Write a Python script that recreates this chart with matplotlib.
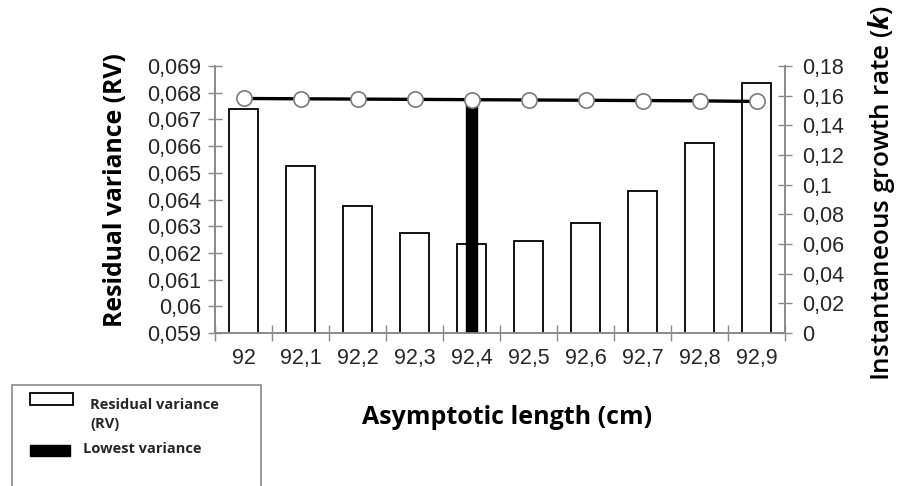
import matplotlib
matplotlib.use('Agg')
import matplotlib.pyplot as plt
import matplotlib.patches as mpatches
import numpy as np

plt.rcParams['font.family'] = ['Liberation Sans', 'DejaVu Sans']
plt.rcParams['mathtext.fontset'] = 'custom'
plt.rcParams['mathtext.it'] = 'Open Sans:italic:bold'

# data
lengths = ['92', '92,1', '92,2', '92,3', '92,4', '92,5', '92,6', '92,7', '92,8', '92,9']
rv = [0.0674, 0.06527, 0.06376, 0.06276, 0.06233, 0.06245, 0.06311, 0.06431, 0.06610, 0.06835]
k = [0.1581, 0.1579, 0.1577, 0.1575, 0.1573, 0.1571, 0.1569, 0.1567, 0.1565, 0.1561]

rv_lim = (0.059, 0.069)
k_lim = (0, 0.18)

axis_grey = '#8a8a8a'
text_dark = '#262626'

def comma(v, pos=None):
    s = f'{v:.3f}'.rstrip('0').rstrip('.')
    return s.replace('.', ',')

fig = plt.figure(figsize=(8.99, 4.86), dpi=100)
ax = fig.add_axes([0.2392, 0.3148, 0.634, 0.5494])
ax2 = ax.twinx()

x = np.arange(len(lengths))
lowest = int(np.argmin(rv))

# residual variance bars (white, black outline)
ax.bar(x, rv, width=0.5, color='white', edgecolor='black', linewidth=1.3, zorder=2)
ax.set_ylim(*rv_lim)
ax.set_xlim(-0.5, len(lengths) - 0.5)

# lowest variance highlight: thin black bar up to the k line
ax2.bar(x[lowest], k[lowest], width=0.19, color='black', edgecolor='black', zorder=2)
# k line
ax2.plot(x, k, color='black', linewidth=2.4, marker='o', markersize=11,
         markerfacecolor='white', markeredgecolor='#7a7a7a', markeredgewidth=1.2, zorder=3)
ax2.set_ylim(*k_lim)

# ticks
ax.set_yticks(np.arange(0.059, 0.0691, 0.001))
ax.yaxis.set_major_formatter(plt.FuncFormatter(comma))
ax2.set_yticks(np.arange(0, 0.181, 0.02))
ax2.yaxis.set_major_formatter(plt.FuncFormatter(comma))

ax.set_xticks(np.arange(-0.5, len(lengths), 1.0))
ax.set_xticklabels([])
ax.set_xticks(x, minor=True)
ax.set_xticklabels(lengths, minor=True)

ax.tick_params(axis='y', direction='inout', length=10, width=1, color=axis_grey,
               labelsize=15.5, labelcolor=text_dark, pad=5)
ax2.tick_params(axis='y', direction='inout', length=10, width=1, color=axis_grey,
                labelsize=15.5, labelcolor=text_dark, pad=7)
ax.tick_params(axis='x', which='major', direction='inout', length=12, width=1, color=axis_grey)
ax.tick_params(axis='x', which='minor', length=0, labelsize=15.5, labelcolor=text_dark, pad=11)

for a in (ax, ax2):
    a.spines['top'].set_visible(False)
    for s in ('left', 'right', 'bottom'):
        a.spines[s].set_color(axis_grey)
        a.spines[s].set_linewidth(1.2)
    a.set_facecolor('none')

# axis titles
fig.text(0.128, 0.609, 'Residual variance (RV)', rotation=90, ha='center', va='center',
         fontsize=17.8, fontweight='bold', family='Open Sans', color='black')
fig.text(0.981, 0.603, 'Instantaneous growth rate ($\\mathit{k}$)', rotation=90,
         ha='center', va='center', fontsize=18.8, fontweight='semibold',
         family='Open Sans', color='black')
fig.text(0.564, 0.140, 'Asymptotic length (cm)', ha='center', va='center',
         fontsize=18, fontweight='bold', family='Open Sans', color='black')

# legend box, drawn in pixel coordinates of the figure
H = 486.0
W = 899.0
def fx(px):
    return px / W
def fy(py):
    return 1 - py / H

fig.patches.append(mpatches.Rectangle((fx(12), fy(492)), fx(261) - fx(12), fy(385) - fy(492),
                                      transform=fig.transFigure, facecolor='white',
                                      edgecolor=axis_grey, linewidth=1.2))
fig.patches.append(mpatches.Rectangle((fx(30), fy(405)), fx(73) - fx(30), fy(393) - fy(405),
                                      transform=fig.transFigure, facecolor='white',
                                      edgecolor='black', linewidth=1.3))
fig.patches.append(mpatches.Rectangle((fx(30), fy(456)), fx(70) - fx(30), fy(445) - fy(456),
                                      transform=fig.transFigure, facecolor='black',
                                      edgecolor='black', linewidth=1))
fig.text(fx(90), fy(414.5), 'Residual variance\n(RV)', ha='left', va='center', fontsize=10.5,
         fontweight='bold', family='Open Sans', linespacing=1.45, color=text_dark)
fig.text(fx(83), fy(449), 'Lowest variance', ha='left', va='center', fontsize=10.5,
         fontweight='bold', family='Open Sans', color=text_dark)

fig.savefig('out.png', dpi=100)
